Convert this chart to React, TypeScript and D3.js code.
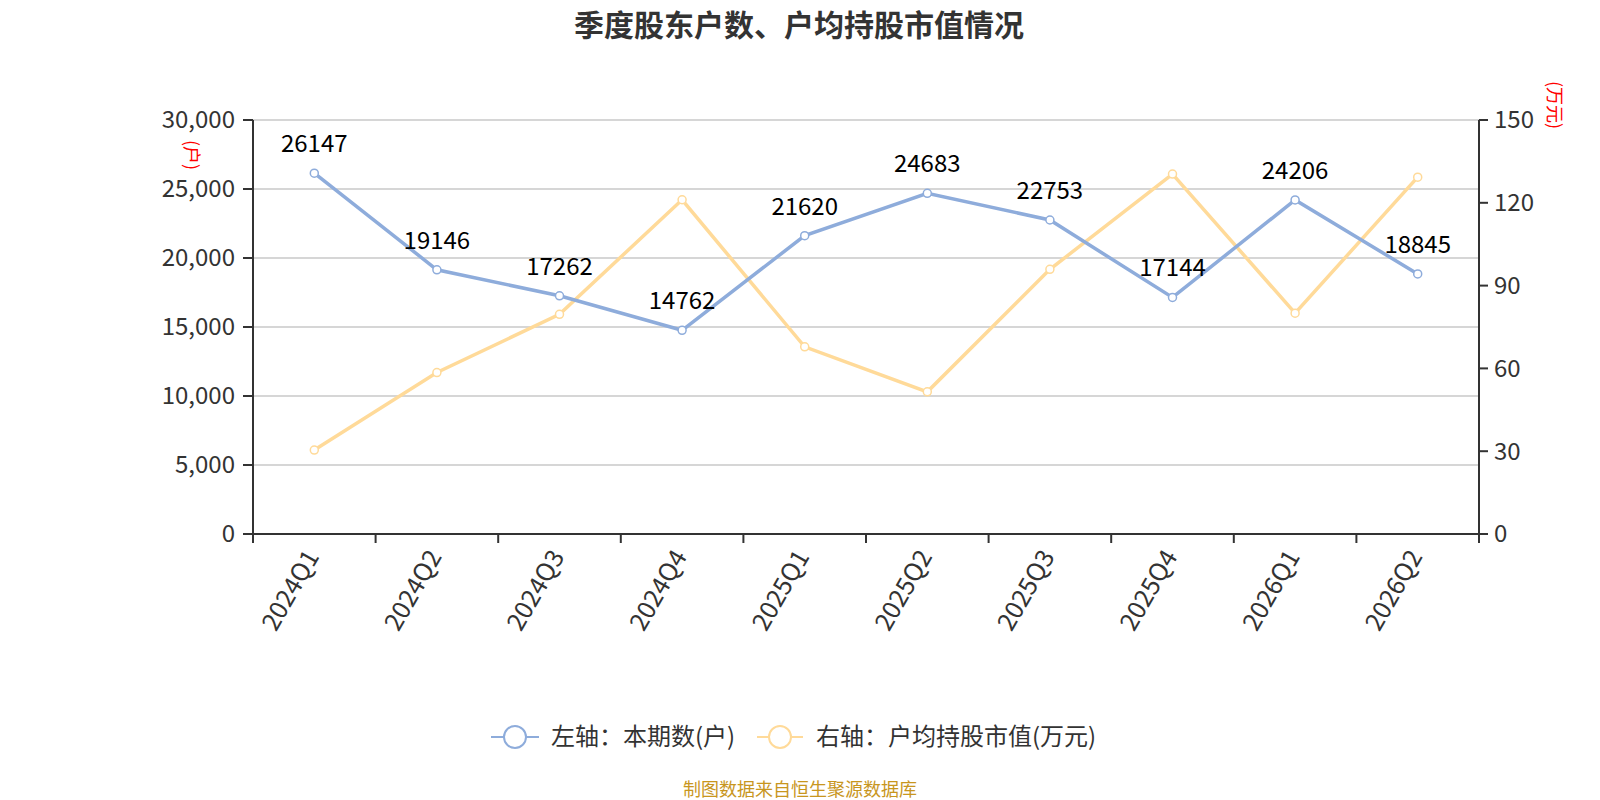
import React from "react";
import * as d3 from "d3";

const categories = ["2024Q1","2024Q2","2024Q3","2024Q4","2025Q1","2025Q2","2025Q3","2025Q4","2026Q1","2026Q2"];
const holders = [26147,19146,17262,14762,21620,24683,22753,17144,24206,18845];
const avgValue = [30.4,58.5,79.6,121.1,67.8,51.5,95.9,130.4,80.0,129.3];
const leftTicks = [0,5000,10000,15000,20000,25000,30000];
const rightTicks = [0,30,60,90,120,150];

const FONT = "'Noto Sans CJK SC', 'Noto Sans', sans-serif";
const BLUE = "#8EACDB";
const ORANGE = "#FFDA99";

export default function App() {
  const W = 1600, H = 800;
  const left = 253, right = 1479, top = 120, bottom = 534;
  const x = d3.scaleBand<string>().domain(categories).range([left, right]);
  const yL = d3.scaleLinear().domain([0, 30000]).range([bottom, top]);
  const yR = d3.scaleLinear().domain([0, 150]).range([bottom, top]);
  const cx = (c: string) => (x(c) as number) + x.bandwidth() / 2;
  const lineL = d3.line<number>().x((_, i) => cx(categories[i])).y(d => yL(d));
  const lineR = d3.line<number>().x((_, i) => cx(categories[i])).y(d => yR(d));
  const fmt = d3.format(",");
  const ly = 737;
  return (
    <svg width={W} height={H} style={{ display: "block", position: "absolute", left: 0, top: 0 }} fontFamily={FONT}>
      <rect width={W} height={H} fill="#fff" />
      <text x={799} y={36} textAnchor="middle" fontSize={30} fontWeight="bold" fill="#333">季度股东户数、户均持股市值情况</text>
      {leftTicks.map(t => (
        <line key={"g" + t} x1={left} x2={right} y1={yL(t)} y2={yL(t)} stroke="#c8c8c8" strokeWidth={1.5} />
      ))}
      {/* left axis */}
      <line x1={left} x2={left} y1={top} y2={bottom} stroke="#333" strokeWidth={2} />
      {leftTicks.map(t => (
        <g key={"l" + t}>
          <line x1={left - 10} x2={left} y1={yL(t)} y2={yL(t)} stroke="#333" strokeWidth={2} />
          <text x={left - 18} y={yL(t)} dy="0.35em" textAnchor="end" fontSize={24} fill="#333">{fmt(t)}</text>
        </g>
      ))}
      {/* right axis */}
      <line x1={right} x2={right} y1={top} y2={bottom} stroke="#333" strokeWidth={2} />
      {rightTicks.map(t => (
        <g key={"r" + t}>
          <line x1={right} x2={right + 9} y1={yR(t)} y2={yR(t)} stroke="#333" strokeWidth={2} />
          <text x={right + 15} y={yR(t)} dy="0.35em" textAnchor="start" fontSize={24} fill="#333">{t}</text>
        </g>
      ))}
      {/* x axis */}
      <line x1={left} x2={right} y1={bottom} y2={bottom} stroke="#333" strokeWidth={2} />
      {categories.map((c, i) => (
        <line key={"xt" + i} x1={x(c) as number} x2={x(c) as number} y1={bottom} y2={bottom + 9} stroke="#333" strokeWidth={2} />
      ))}
      <line x1={right} x2={right} y1={bottom} y2={bottom + 9} stroke="#333" strokeWidth={2} />
      {categories.map(c => (
        <text key={"xl" + c} transform={`translate(${cx(c) - 2},${bottom + 18}) rotate(-60)`} textAnchor="end" dy="0.35em" fontSize={25} fill="#333">{c}</text>
      ))}
      {/* axis unit labels */}
      <text transform={`translate(185,155) rotate(90)`} textAnchor="middle" fontSize={18} fill="red">(户)</text>
      <text transform={`translate(1548,105) rotate(90)`} textAnchor="middle" fontSize={18} fill="red">(万元)</text>
      {/* lines */}
      <path d={lineR(avgValue) || ""} fill="none" stroke={ORANGE} strokeWidth={3.5} />
      <path d={lineL(holders) || ""} fill="none" stroke={BLUE} strokeWidth={3.5} />
      {avgValue.map((v, i) => (
        <circle key={"ro" + i} cx={cx(categories[i])} cy={yR(v)} r={4} fill="#fff" stroke={ORANGE} strokeWidth={1.5} />
      ))}
      {holders.map((v, i) => (
        <g key={"bo" + i}>
          <circle cx={cx(categories[i])} cy={yL(v)} r={4} fill="#fff" stroke={BLUE} strokeWidth={1.5} />
          <text x={cx(categories[i])} y={yL(v) - 21} textAnchor="middle" fontSize={24} fill="#000">{v}</text>
        </g>
      ))}
      {/* legend */}
      <g>
        <line x1={491} x2={539} y1={ly} y2={ly} stroke={BLUE} strokeWidth={2} />
        <circle cx={515} cy={ly} r={11} fill="#fff" stroke={BLUE} strokeWidth={2} />
        <text x={551} y={ly} dy="0.35em" fontSize={24} fill="#333">左轴：本期数(户)</text>
        <line x1={757} x2={803} y1={ly} y2={ly} stroke={ORANGE} strokeWidth={2} />
        <circle cx={780} cy={ly} r={11} fill="#fff" stroke={ORANGE} strokeWidth={2} />
        <text x={816} y={ly} dy="0.35em" fontSize={24} fill="#333">右轴：户均持股市值(万元)</text>
      </g>
      <text x={800} y={796} textAnchor="middle" fontSize={18} fill="#C8961E">制图数据来自恒生聚源数据库</text>
    </svg>
  );
}
